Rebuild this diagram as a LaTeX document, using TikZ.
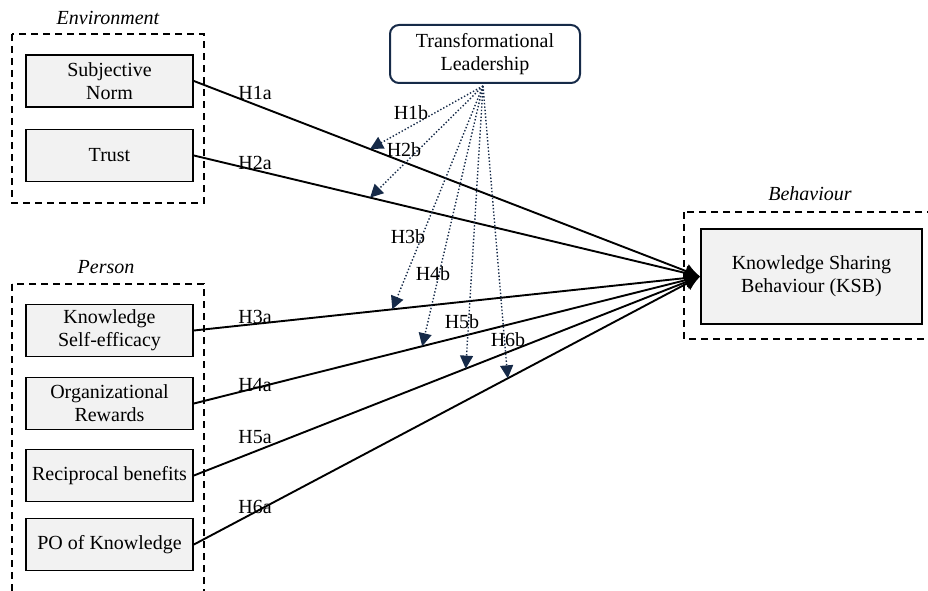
\documentclass[tikz,border=0pt]{standalone}
\usepackage{fontspec}
\setmainfont{Liberation Serif}
\usetikzlibrary{arrows.meta}

\definecolor{navy}{RGB}{22,42,72}
\definecolor{boxgray}{RGB}{242,242,242}

\begin{document}
\begin{tikzpicture}[x=1pt, y=-1pt,
    font=\fontsize{20}{23}\selectfont,
    factor/.style={draw, fill=boxgray, line width=1.8pt, minimum width=167pt, minimum height=52pt, align=center, inner sep=2pt},
    group/.style={draw, dash pattern=on 7pt off 5pt, line width=1.6pt},
    effect/.style={line width=1.9pt, -{Latex[length=15pt,width=15pt]}},
    moderate/.style={navy, dotted, line width=1.4pt, -{Triangle[length=13pt,width=13pt]}}]
    \useasboundingbox (0,0) rectangle (928,591);

    % Group frames and their titles
    \draw[group] (12,34) rectangle (204,203);
    \draw[group] (12,284) rectangle (204,620);
    \draw[group] (684,212) rectangle (940,339);
    \node[font=\fontsize{20}{23}\selectfont\itshape] (env) at (108,18) {Environment};
    \node[font=\fontsize{20}{23}\selectfont\itshape] (per) at (106,267) {Person};
    \node[font=\fontsize{20}{23}\selectfont\itshape] (beh) at (810,194) {Behaviour};

    % Define positions of the factors
    \node[factor] (sn) at (109.5,81) {Subjective\\Norm};
    \node[factor] (tr) at (109.5,155.5) {Trust};
    \node[factor] (kse) at (109.5,330.5) {Knowledge\\Self-efficacy};
    \node[factor] (or) at (109.5,403.5) {Organizational\\Rewards};
    \node[factor] (rb) at (109.5,475.5) {Reciprocal benefits};
    \node[factor] (po) at (109.5,544.5) {PO of Knowledge};
    \node[factor, minimum width=221pt, minimum height=95pt] (ksb) at (811.5,276.5) {Knowledge Sharing\\Behaviour (KSB)};
    \node[draw=navy, line width=2pt, rounded corners=9pt, minimum width=190pt, minimum height=58pt, align=center] (tl) at (485,54) {Transformational\\Leadership};

    % Draw direct effects
    \draw[effect] (sn.east) -- coordinate[pos=0.348] (m1) (ksb.west);
    \draw[effect] (tr.east) -- coordinate[pos=0.348] (m2) (ksb.west);
    \draw[effect] (kse.east) -- coordinate[pos=0.392] (m3) (ksb.west);
    \draw[effect] (or.east) -- coordinate[pos=0.451] (m4) (ksb.west);
    \draw[effect] (rb.east) -- coordinate[pos=0.537] (m5) (ksb.west);
    \draw[effect] (po.east) -- coordinate[pos=0.62] (m6) (ksb.west);

    % Draw moderating effects
    \coordinate (tls) at (483,86);
    \draw[moderate] (tls) -- (m1);
    \draw[moderate] (tls) -- (m2);
    \draw[moderate] (tls) -- (m3);
    \draw[moderate] (tls) -- (m4);
    \draw[moderate] (tls) -- (m5);
    \draw[moderate] (tls) -- (m6);

    % Hypothesis labels
    \node (h1a) at (255,93) {H1a};
    \node (h2a) at (255,163) {H2a};
    \node (h3a) at (255,317) {H3a};
    \node (h4a) at (255,385) {H4a};
    \node (h5a) at (255,437) {H5a};
    \node (h6a) at (255,507) {H6a};
    \node (h1b) at (411,113) {H1b};
    \node (h2b) at (404,150) {H2b};
    \node (h3b) at (408,237) {H3b};
    \node (h4b) at (433,274) {H4b};
    \node (h5b) at (462,322) {H5b};
    \node (h6b) at (508,340) {H6b};
\end{tikzpicture}
\end{document}
